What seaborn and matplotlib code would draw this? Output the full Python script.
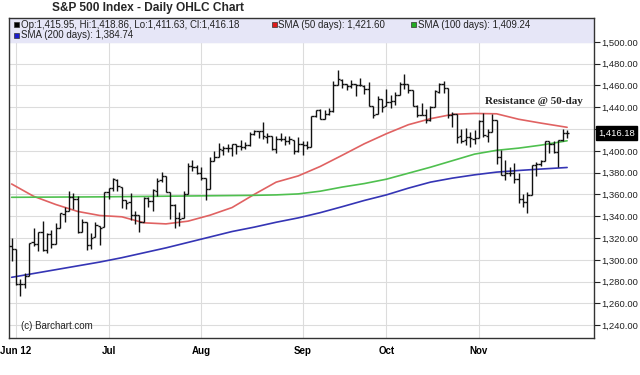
import matplotlib
matplotlib.use('Agg')
import matplotlib.pyplot as plt
from matplotlib.patches import Rectangle
from matplotlib.ticker import FuncFormatter
import numpy as np
import pandas as pd
import seaborn as sns

# trading days shown (May 31 - Nov 30 2012, market holidays removed)
holidays = ['2012-07-04', '2012-09-03', '2012-10-29', '2012-10-30', '2012-11-22']
days = pd.bdate_range('2012-05-31', '2012-11-30')
days = days[~days.isin(pd.to_datetime(holidays))]

opens = [1313.09, 1309.87, 1278.29, 1277.82, 1285.61, 1316.15, 1314.99, 1325.72, 1309.40, 1324.02,
         1314.88, 1329.19, 1342.42, 1344.83, 1357.98, 1355.43, 1325.92, 1334.90, 1314.09, 1320.71,
         1331.52, 1330.12,
         1362.33, 1365.75, 1373.72, 1367.09, 1354.66, 1352.96, 1341.40, 1341.29, 1334.81, 1356.50,
         1353.68, 1363.58, 1373.01, 1376.51, 1362.34, 1350.52, 1338.35, 1338.17, 1360.05, 1385.94,
         1385.27,
         1379.32, 1375.13, 1365.45, 1391.04, 1394.46, 1401.23, 1402.26, 1402.58, 1405.87, 1404.36,
         1403.89, 1405.57, 1415.84, 1417.85, 1418.13, 1413.09, 1413.49, 1401.99, 1411.13, 1410.44,
         1409.32, 1410.08, 1400.07,
         1406.54, 1404.94, 1403.74, 1432.12, 1437.92, 1429.13, 1433.56, 1436.56, 1460.07, 1465.42,
         1461.19, 1459.50, 1461.05, 1460.34, 1459.76, 1456.94, 1441.60, 1433.36, 1447.13,
         1440.90, 1444.99, 1446.05, 1451.08, 1461.40, 1460.93, 1455.90, 1441.48, 1432.82, 1432.84,
         1428.75, 1440.31, 1454.22, 1460.94, 1457.34, 1433.21, 1433.74, 1413.20, 1409.74, 1412.97,
         1410.99,
         1412.20, 1427.59, 1414.02, 1417.26, 1428.27, 1394.53, 1377.55, 1379.86, 1380.03, 1374.64,
         1355.41, 1353.36, 1359.88, 1386.82, 1387.79, 1391.03, 1409.15, 1406.29, 1398.77, 1409.96,
         1415.95]
highs = [1319.74, 1309.87, 1282.55, 1287.62, 1315.13, 1329.05, 1325.81, 1335.52, 1324.31, 1327.28,
         1333.68, 1343.32, 1348.22, 1363.46, 1361.57, 1358.27, 1337.82, 1334.90, 1324.24, 1334.40,
         1331.52, 1362.17,
         1366.35, 1374.81, 1373.85, 1367.09, 1354.87, 1361.54, 1345.00, 1341.29, 1357.70, 1357.26,
         1365.36, 1375.26, 1380.39, 1376.51, 1362.34, 1351.53, 1343.98, 1363.13, 1389.19, 1391.74,
         1387.16,
         1385.03, 1375.13, 1394.16, 1399.63, 1407.14, 1404.14, 1405.95, 1405.98, 1405.87, 1410.03,
         1407.73, 1417.44, 1418.71, 1418.13, 1426.68, 1416.12, 1413.49, 1413.46, 1416.17, 1413.63,
         1413.95, 1410.08, 1413.09,
         1409.31, 1408.81, 1432.12, 1437.92, 1438.74, 1437.76, 1439.15, 1463.76, 1474.51, 1465.63,
         1461.47, 1465.05, 1461.23, 1467.07, 1460.72, 1463.24, 1441.60, 1450.20, 1447.13,
         1457.14, 1451.52, 1454.30, 1463.14, 1470.96, 1460.93, 1455.90, 1442.52, 1443.90, 1438.43,
         1441.31, 1455.51, 1462.20, 1464.02, 1457.34, 1435.46, 1433.74, 1420.04, 1421.12, 1417.09,
         1418.76,
         1428.35, 1434.27, 1419.90, 1433.38, 1428.27, 1401.23, 1391.39, 1384.87, 1388.81, 1380.13,
         1360.62, 1362.03, 1386.89, 1389.77, 1391.25, 1409.16, 1409.15, 1409.01, 1410.31, 1419.70,
         1418.86]
lows = [1298.90, 1277.25, 1266.74, 1274.16, 1285.61, 1312.68, 1307.77, 1307.73, 1306.62, 1310.51,
        1314.14, 1329.19, 1334.46, 1344.83, 1346.45, 1324.41, 1325.92, 1309.27, 1310.30, 1320.71,
        1313.29, 1330.12,
        1355.70, 1363.53, 1363.02, 1348.03, 1346.65, 1336.27, 1333.25, 1325.41, 1334.81, 1348.51,
        1345.07, 1358.96, 1371.21, 1362.19, 1337.56, 1329.24, 1331.50, 1338.17, 1360.05, 1381.37,
        1379.17,
        1373.35, 1354.65, 1365.45, 1391.04, 1394.46, 1396.13, 1398.80, 1395.62, 1397.32, 1400.60,
        1401.83, 1404.15, 1414.67, 1412.12, 1410.86, 1406.78, 1400.50, 1398.04, 1409.11, 1405.59,
        1406.57, 1397.01, 1398.96,
        1396.56, 1401.25, 1403.74, 1431.45, 1428.98, 1429.13, 1432.99, 1435.34, 1460.07, 1457.55,
        1456.13, 1457.88, 1449.98, 1459.51, 1452.06, 1441.59, 1430.53, 1433.36, 1435.60,
        1440.90, 1439.01, 1441.99, 1451.08, 1456.89, 1453.10, 1441.18, 1430.64, 1432.82, 1425.53,
        1427.24, 1440.31, 1453.35, 1452.63, 1429.85, 1422.06, 1407.56, 1407.10, 1405.14, 1403.28,
        1405.95,
        1412.20, 1412.91, 1408.13, 1417.26, 1388.14, 1377.51, 1373.03, 1377.19, 1370.78, 1352.50,
        1348.05, 1343.35, 1359.88, 1377.04, 1386.39, 1391.03, 1397.68, 1398.03, 1385.43, 1409.04,
        1411.63]
closes = [1310.33, 1278.04, 1278.18, 1285.50, 1315.13, 1314.99, 1325.66, 1308.93, 1324.18, 1314.88,
          1329.10, 1342.84, 1344.78, 1357.98, 1355.69, 1325.51, 1335.02, 1313.72, 1319.99, 1331.85,
          1329.04, 1362.16,
          1365.51, 1374.02, 1367.58, 1354.68, 1352.46, 1341.47, 1341.45, 1334.76, 1356.78, 1353.64,
          1363.67, 1372.78, 1376.51, 1362.66, 1350.52, 1338.31, 1337.89, 1360.02, 1385.97, 1385.30,
          1379.32,
          1375.32, 1365.00, 1390.99, 1394.23, 1401.35, 1402.22, 1402.80, 1405.87, 1404.11, 1403.93,
          1405.53, 1415.51, 1418.16, 1418.13, 1413.17, 1413.49, 1402.08, 1411.13, 1410.44, 1409.30,
          1410.49, 1399.48, 1406.58,
          1404.94, 1403.44, 1432.12, 1437.92, 1429.08, 1433.56, 1436.56, 1459.99, 1465.77, 1461.19,
          1459.32, 1461.05, 1460.26, 1460.15, 1456.89, 1441.59, 1433.32, 1447.15, 1440.67,
          1444.49, 1445.75, 1450.99, 1461.40, 1460.93, 1455.88, 1441.48, 1432.56, 1432.84, 1428.59,
          1440.13, 1454.92, 1460.91, 1457.34, 1433.19, 1433.82, 1413.11, 1408.75, 1412.97, 1411.94,
          1412.16,
          1427.59, 1414.20, 1417.26, 1428.39, 1394.53, 1377.51, 1379.85, 1380.03, 1374.53, 1355.49,
          1353.33, 1359.88, 1386.89, 1387.81, 1391.03, 1409.15, 1406.29, 1398.94, 1409.93, 1415.95,
          1416.18]

sma_dates = ['2012-05-31', '2012-06-07', '2012-06-14', '2012-06-21', '2012-06-28', '2012-07-06',
             '2012-07-13', '2012-07-20', '2012-07-27', '2012-08-03', '2012-08-10', '2012-08-17',
             '2012-08-24', '2012-08-31', '2012-09-10', '2012-09-17', '2012-09-24', '2012-10-01',
             '2012-10-08', '2012-10-15', '2012-10-22', '2012-10-31', '2012-11-07', '2012-11-14',
             '2012-11-21', '2012-11-30']
sma50 = [1369.6, 1358.3, 1350.8, 1344.4, 1340.7, 1339.5, 1334.0, 1333.0, 1335.5, 1341.0, 1348.0,
         1360.0, 1371.3, 1377.0, 1385.7, 1396.0, 1406.5, 1415.7, 1424.0, 1429.5, 1433.5, 1434.3,
         1434.0, 1429.0, 1425.5, 1421.60]
sma100 = [1357.4, 1357.5, 1357.6, 1357.7, 1357.8, 1358.0, 1358.2, 1358.4, 1358.6, 1358.8, 1359.0,
          1359.2, 1359.6, 1360.5, 1363.0, 1366.8, 1370.0, 1374.0, 1379.5, 1385.0, 1391.0, 1397.0,
          1400.5, 1402.5, 1405.2, 1409.24]
sma200 = [1284.0, 1287.5, 1291.0, 1294.5, 1298.0, 1302.0, 1306.5, 1311.0, 1316.0, 1321.0, 1326.0,
          1330.0, 1334.5, 1338.5, 1343.3, 1348.8, 1354.5, 1359.6, 1365.8, 1371.3, 1375.0, 1378.0,
          1380.5, 1382.0, 1383.3, 1384.74]

sns.set_style('white')
plt.rcParams['font.family'] = ['Liberation Sans', 'DejaVu Sans']

fig = plt.figure(figsize=(6.4, 3.75), dpi=100)
ax = fig.add_axes([9 / 640, 1 - 337.7 / 375, 585 / 640, 319.4 / 375])

x = np.arange(len(days))
ax.vlines(x, lows, highs, color='#111111', lw=1, zorder=3)
ax.hlines(opens, x - 0.5, x, color='#111111', lw=1, zorder=3)
ax.hlines(closes, x, x + 0.5, color='#111111', lw=1, zorder=3)

sma_x = [days.get_loc(pd.Timestamp(d)) for d in sma_dates]
sns.lineplot(x=sma_x, y=sma50, color='#e06262', lw=1.2, ax=ax, zorder=2)
sns.lineplot(x=sma_x, y=sma100, color='#4fc04f', lw=1.2, ax=ax, zorder=2)
sns.lineplot(x=sma_x, y=sma200, color='#3535b5', lw=1.2, ax=ax, zorder=2)

ax.set_xlim(-0.6, 132.1)
ax.set_ylim(1228.6, 1521.6)

# legend band at the top of the plot
ax.axhspan(1500, 1521.6, color='#e6e6f7', zorder=1)

months = pd.Series(days.month)
month_pos = list(months.index[months != months.shift()][1:])
month_labels = ['Jun 12'] + [days[p].strftime('%b') for p in month_pos[1:]]
ax.set_xticks(month_pos, month_labels, fontweight='bold', fontsize=7)

ax.yaxis.tick_right()
ax.set_yticks(np.arange(1240, 1501, 20))
ax.yaxis.set_major_formatter(FuncFormatter(
    lambda v, p: '' if abs(v - closes[-1]) < 8 else f'{v:,.2f}'))
ax.tick_params(axis='y', direction='out', length=4, width=0.8, labelsize=6.8, pad=1.5, colors='#222222')
ax.tick_params(axis='x', direction='out', length=4, width=0.8, pad=2, colors='black')
ax.set_axisbelow(True)
ax.grid(True, color='#dcdcdc', lw=0.8)
for s in ax.spines.values():
    s.set_color('#333333')
    s.set_linewidth(1)
ax.set_xlabel('')
ax.set_ylabel('')

ax.annotate(f'{closes[-1]:,.2f}', xy=(1.0, closes[-1]), xycoords=('axes fraction', 'data'),
            xytext=(3, 0), textcoords='offset points', ha='left', va='center', color='white',
            fontsize=6.8, annotation_clip=False,
            bbox=dict(boxstyle='square,pad=0.25', fc='black', ec='black'))

ax.text(0.897, 0.741, 'Resistance @ 50-day', transform=ax.transAxes, ha='center', va='center',
        fontsize=8, fontweight='bold', family=['Liberation Serif', 'DejaVu Serif'])
ax.text(11.7 / 585, (337.7 - 326) / 319.4, '(c) Barchart.com', transform=ax.transAxes,
        ha='left', va='center', fontsize=7, color='#222222')

fig.text(52 / 640, 1 - 7.7 / 375, 'S&P 500 Index - Daily OHLC Chart', fontsize=8.6,
         fontweight='bold', va='center', ha='left')

# legend entries
legend_items = [
    ('black', 14, 24.7, f'Op:{opens[-1]:,.2f}, Hi:{highs[-1]:,.2f}, Lo:{lows[-1]:,.2f}, Cl:{closes[-1]:,.2f}'),
    ('#dd1a1a', 271.5, 24.7, f'SMA (50 days): {sma50[-1]:,.2f}'),
    ('#22aa22', 411, 24.7, f'SMA (100 days): {sma100[-1]:,.2f}'),
    ('#1a1acc', 14, 35.3, f'SMA (200 days): {sma200[-1]:,.2f}'),
]
for col, px, py, label in legend_items:
    fig.add_artist(Rectangle((px / 640, 1 - (py + 2.5) / 375), 5 / 640, 5 / 375,
                             facecolor=col, edgecolor='#333333', lw=0.5))
    fig.text((px + 7) / 640, 1 - py / 375, label, fontsize=7, va='center', ha='left', color='#222222')

plt.savefig('out.png', dpi=100)
